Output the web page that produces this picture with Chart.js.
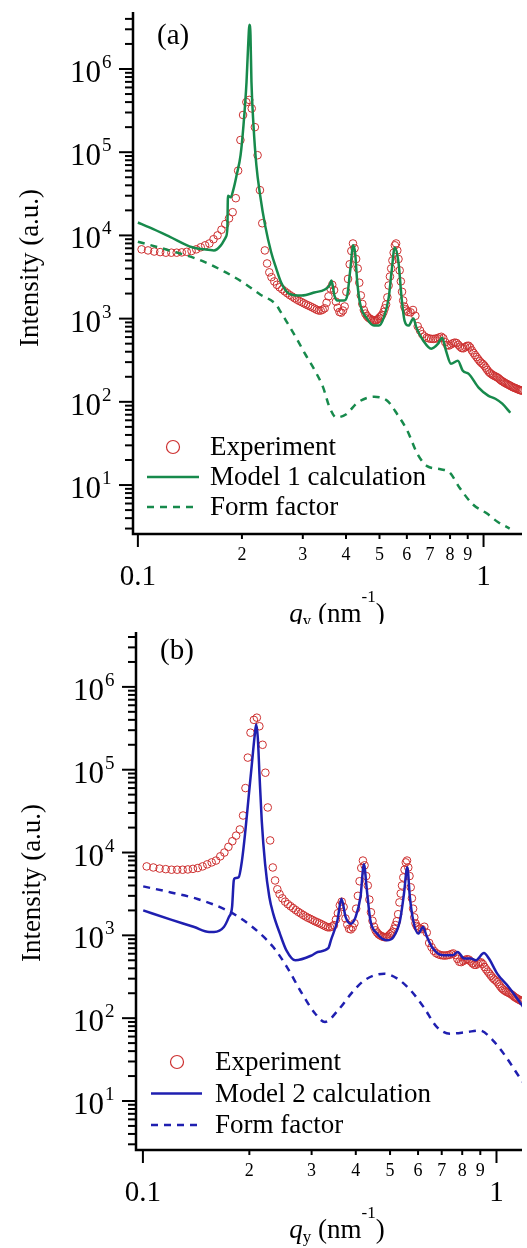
<!DOCTYPE html>
<html>
<head>
<meta charset="utf-8">
<script src="https://cdn.jsdelivr.net/npm/chart.js@4.4.0/dist/chart.umd.min.js"></script>
<style>
  body { margin: 0; background: #fff; }
  .panel { position: absolute; left: 0; width: 527px; height: 624px; }
  #wrapA { top: 0; }
  #wrapB { top: 624px; }
</style>
</head>
<body>
<div class="panel" id="wrapA"><canvas id="chartA"></canvas></div>
<div class="panel" id="wrapB"><canvas id="chartB"></canvas></div>
<script>
// Experiment (same data in both panels)
const expQ = [
  0.1025, 0.1070, 0.1115, 0.1160, 0.1205, 0.1250, 0.1295, 0.1340, 0.1385, 0.1430,
  0.1475, 0.1520, 0.1565, 0.1610, 0.1655, 0.1700, 0.1745, 0.1790, 0.1835, 0.1880,
  0.1920, 0.1950, 0.1980, 0.2015, 0.2060, 0.2100, 0.2135, 0.2180, 0.2220, 0.2255,
  0.2290, 0.2330, 0.2365, 0.2400, 0.2435, 0.2480, 0.2525, 0.2570, 0.2615, 0.2660,
  0.2705, 0.2750, 0.2795, 0.2840, 0.2885, 0.2930, 0.2975, 0.3020, 0.3065, 0.3110,
  0.3155, 0.3200, 0.3245, 0.3290, 0.3335, 0.3380, 0.3425, 0.3470, 0.3515, 0.3560,
  0.3605, 0.3650, 0.3695, 0.3740, 0.3785, 0.3830, 0.3875, 0.3920, 0.3965, 0.4010,
  0.4055, 0.4100, 0.4145, 0.4190, 0.4235, 0.4280, 0.4325, 0.4370, 0.4415, 0.4460,
  0.4505, 0.4550, 0.4595, 0.4640, 0.4685, 0.4730, 0.4775, 0.4820, 0.4865, 0.4910,
  0.4955, 0.5000, 0.5045, 0.5090, 0.5135, 0.5180, 0.5225, 0.5270, 0.5315, 0.5360,
  0.5405, 0.5450, 0.5495, 0.5540, 0.5585, 0.5630, 0.5675, 0.5720, 0.5765, 0.5810,
  0.5855, 0.5900, 0.5945, 0.5990,
  0.605, 0.615, 0.625, 0.635, 0.645, 0.655, 0.665, 0.675, 0.685, 0.695,
  0.705, 0.715, 0.725, 0.735, 0.745, 0.755, 0.765, 0.775, 0.785, 0.795,
  0.805, 0.815, 0.825, 0.835, 0.845, 0.855, 0.865, 0.875, 0.885, 0.895,
  0.905, 0.915, 0.925, 0.935, 0.945, 0.955, 0.965, 0.975, 0.985, 0.995,
  1.005, 1.015, 1.025, 1.035, 1.045, 1.055, 1.065, 1.075, 1.085, 1.095,
  1.105, 1.115, 1.125, 1.135, 1.145, 1.155, 1.165, 1.175, 1.185, 1.195,
  1.205, 1.215, 1.225, 1.235, 1.245, 1.255, 1.265, 1.275, 1.285, 1.295
];
const expI = [
  6800, 6600, 6400, 6300, 6200, 6200, 6200, 6250, 6350, 6500,
  6800, 7200, 7600, 8000, 9000, 10000, 11700, 13700, 16000, 19000,
  28000, 60000, 140000, 280000, 400000, 425000, 335000, 200000, 92000, 35000,
  14000, 6600, 4600, 3600, 3150, 2800, 2550, 2380, 2250, 2130,
  2020, 1920, 1840, 1760, 1690, 1630, 1580, 1530, 1480, 1440,
  1400, 1360, 1320, 1280, 1250, 1250, 1280, 1330, 1550, 1850,
  2300, 2550, 2200, 1600, 1350, 1200, 1180, 1250, 1400, 2100,
  3000, 4500, 6500, 8000, 7000, 5200, 4000, 2700, 1900, 1500,
  1270, 1150, 1080, 1030, 1000, 980, 960, 950, 950, 960,
  990, 1030, 1070, 1110, 1200, 1330, 1480, 1800, 2500, 3200,
  4000, 5000, 6200, 7600, 8000, 6600, 5200, 3800, 2800, 2100,
  1650, 1400, 1300, 1250,
  1200, 1190, 1270, 1080, 810, 720, 650, 610, 590, 578,
  572, 570, 574, 580, 595, 605, 580, 520, 480, 475,
  490, 505, 515, 510, 485, 460, 442, 440, 455, 470,
  472, 450, 415, 388, 365, 345, 325, 308, 294, 285,
  272, 257, 242, 230, 221, 215, 209, 205, 201, 197,
  192, 186, 180, 176, 172, 168, 165, 162, 159, 156,
  153, 150, 148, 146, 144, 142, 140, 138, 137, 136
];

// Panel (a): Model 1 calculation
const model1Q = [
  0.100, 0.108, 0.1234, 0.1436, 0.1553, 0.166, 0.1738, 0.1795, 0.1815, 0.1822,
  0.1855, 0.1893, 0.1930, 0.1982, 0.2021, 0.2062, 0.2083, 0.2103, 0.2117, 0.2131,
  0.2160, 0.2202, 0.2258, 0.2334, 0.2431, 0.2514, 0.2597, 0.2736, 0.2978, 0.3238,
  0.3583, 0.3631, 0.3704, 0.3777, 0.3955, 0.4034, 0.4114, 0.4196, 0.4252, 0.4308,
  0.4394, 0.4601, 0.4819, 0.4980, 0.5145, 0.5317, 0.5424, 0.5533, 0.5679, 0.5792,
  0.5908, 0.6066, 0.6268, 0.6393, 0.6694, 0.7058, 0.7389, 0.7586, 0.7788, 0.8049,
  0.8428, 0.8710, 0.9061, 0.9676, 1.0335, 1.082, 1.133, 1.195
];
const model1I = [
  14300, 12500, 9700, 7200, 6800, 6600, 7600, 9500, 12100, 30000,
  28700, 36800, 52800, 92000, 211000, 697000, 1790000, 3390000, 2570000, 697000,
  211000, 69700, 30300, 13200, 6240, 4000, 2720, 2000, 1890, 2060,
  2500, 2870, 1890, 1650, 1650, 1890, 3790, 7590, 6070, 2870,
  1520, 1000, 824, 824, 1030, 1790, 3790, 7170, 4600, 1790,
  946, 824, 1000, 780, 543, 435, 500, 590, 411, 287,
  312, 236, 217, 148, 118, 109, 95, 74
];
const form1Q = [
  0.100, 0.1234, 0.1503, 0.1773, 0.2021, 0.2258, 0.250, 0.2597, 0.2701, 0.2884,
  0.3046, 0.3254, 0.3435, 0.3589, 0.3751, 0.4006, 0.4321, 0.4829, 0.5265, 0.5627,
  0.6019, 0.6446, 0.6866, 0.7509, 0.7985, 0.8523, 0.9313, 1.0186, 1.10, 1.19
];
const form1I = [
  8400, 6600, 5100, 3700, 2700, 1950, 1500, 1180, 902, 569,
  376, 236, 149, 85, 65, 71, 98, 115, 103, 71,
  45, 23.4, 16.9, 15.5, 14.1, 9.3, 5.85, 4.6, 3.6, 3.0
];

// Panel (b): Model 2 calculation
const model2Q = [
  0.1002, 0.1200, 0.1397, 0.1539, 0.1589, 0.1694, 0.1750, 0.1787, 0.1807, 0.1819,
  0.1866, 0.1906, 0.1949, 0.1990, 0.2033, 0.2068, 0.2091, 0.2113, 0.2136, 0.2168,
  0.2216, 0.2278, 0.2337, 0.2440, 0.2546, 0.2698, 0.3005, 0.3122, 0.3345, 0.3401,
  0.3549, 0.3643, 0.3745, 0.3868, 0.3994, 0.4124, 0.4217, 0.4300, 0.4399, 0.4592,
  0.4898, 0.5112, 0.5334, 0.5474, 0.5595, 0.5689, 0.5815, 0.6004, 0.6201, 0.6334,
  0.6612, 0.7053, 0.7520, 0.7767, 0.8104, 0.8461, 0.8738, 0.9216, 0.9517, 1.0046,
  1.0825, 1.1797, 1.2000
];
const model2I = [
  2000, 1550, 1260, 1100, 1100, 1260, 1660, 2190, 4600, 4900,
  5040, 8000, 18400, 46000, 117000, 245000, 355000, 245000, 89000, 24300,
  7300, 2900, 1820, 1050, 659, 500, 574, 630, 700, 871,
  1510, 2770, 1660, 1380, 1660, 2900, 7200, 3500, 1520, 1050,
  871, 953, 1510, 3180, 6650, 2900, 1510, 1050, 1260, 1000,
  692, 574, 574, 630, 525, 525, 500, 611, 525, 345,
  238, 144, 130
];
const form2Q = [
  0.1002, 0.1200, 0.1427, 0.1731, 0.1927, 0.2146, 0.2337, 0.2550, 0.2817, 0.3068,
  0.3271, 0.3566, 0.3886, 0.4233, 0.4813, 0.5245, 0.5715, 0.6224, 0.6786, 0.7392,
  0.8232, 0.8965, 0.9766, 1.0644, 1.1594, 1.2000
];
const form2I = [
  3900, 3300, 2750, 2000, 1520, 1050, 722, 420, 199, 114,
  90, 125, 199, 287, 345, 300, 217, 136, 78, 65,
  68, 71, 54, 34, 19.6, 16
];

// Axis ticks
const xTickValues = [0.1, 0.2, 0.3, 0.4, 0.5, 0.6, 0.7, 0.8, 0.9, 1];
const xTickLabels = ['0.1', '2', '3', '4', '5', '6', '7', '8', '9', '1'];
const yTickExponents = [1, 2, 3, 4, 5, 6];

const SERIF = '"Liberation Serif", "Times New Roman", serif';
const EXP_COLOR = 'rgb(205,48,48)';

function toPoints(qs, vals) {
  return qs.map((q, i) => ({ x: q, y: vals[i] }));
}

function line(ctx, x0, y0, x1, y1) {
  ctx.beginPath();
  ctx.moveTo(x0, y0);
  ctx.lineTo(x1, y1);
  ctx.stroke();
}

function drawXTitle(ctx, cx, base) {
  const parts = [
    ['italic 27px ' + SERIF, 'q', 0],
    ['17px ' + SERIF, 'y', 4],
    ['27px ' + SERIF, ' (nm', 0],
    ['17px ' + SERIF, '-1', -20],
    ['27px ' + SERIF, ')', 0]
  ];
  let total = 0;
  parts.forEach(p => { ctx.font = p[0]; total += ctx.measureText(p[1]).width; });
  let x = cx - total / 2;
  ctx.textAlign = 'left';
  ctx.textBaseline = 'alphabetic';
  parts.forEach(p => {
    ctx.font = p[0];
    ctx.fillText(p[1], x, base + p[2]);
    x += ctx.measureText(p[1]).width;
  });
}

function makeDecor(cfg) {
  return {
    id: 'decor' + cfg.tag,
    afterDraw(chart) {
      const ctx = chart.ctx;
      const xs = chart.scales.x, ys = chart.scales.y;
      const a = chart.chartArea;
      ctx.save();
      ctx.strokeStyle = '#000';
      ctx.fillStyle = '#000';

      // axis lines
      ctx.lineWidth = 2.5;
      ctx.beginPath();
      ctx.moveTo(a.left, a.top);
      ctx.lineTo(a.left, a.bottom);
      ctx.lineTo(a.right, a.bottom);
      ctx.stroke();

      // y ticks
      ctx.lineWidth = 2;
      for (let e = 0; e <= 7; e++) {
        for (let m = 1; m <= 9; m++) {
          const v = m * Math.pow(10, e);
          if (v < ys.min || v > ys.max) continue;
          const py = ys.getPixelForValue(v);
          line(ctx, a.left - (m === 1 ? 14 : 8), py, a.left, py);
        }
      }
      // y tick labels 10^n
      yTickExponents.forEach(n => {
        const py = ys.getPixelForValue(Math.pow(10, n));
        ctx.font = '31px ' + SERIF;
        ctx.textAlign = 'right';
        ctx.textBaseline = 'alphabetic';
        ctx.fillText('10', a.left - 32, py + 13);
        ctx.font = '19px ' + SERIF;
        ctx.textAlign = 'left';
        ctx.fillText(String(n), a.left - 31, py - 1);
      });

      // x ticks and labels
      xTickValues.forEach((v, i) => {
        const px = xs.getPixelForValue(v);
        const major = (i === 0 || i === xTickValues.length - 1);
        line(ctx, px, a.bottom, px, a.bottom + (major ? 13 : 5));
        ctx.textAlign = 'center';
        ctx.textBaseline = 'middle';
        if (major) {
          ctx.font = '29px ' + SERIF;
          ctx.fillText(xTickLabels[i], px, a.bottom + 43);
        } else {
          ctx.font = '18px ' + SERIF;
          ctx.fillText(xTickLabels[i], px, a.bottom + 21);
        }
      });

      // axis titles
      drawXTitle(ctx, 337, a.bottom + 88);
      ctx.save();
      ctx.translate(cfg.yTitleX, cfg.yTitleY);
      ctx.rotate(-Math.PI / 2);
      ctx.font = '27px ' + SERIF;
      ctx.textAlign = 'center';
      ctx.textBaseline = 'middle';
      ctx.fillText('Intensity (a.u.)', 0, 0);
      ctx.restore();

      // panel label
      ctx.font = '29px ' + SERIF;
      ctx.textAlign = 'left';
      ctx.textBaseline = 'alphabetic';
      ctx.fillText(cfg.panelLabel, cfg.labelX, cfg.labelY);

      // legend
      const lg = cfg.legend;
      const rows = ['Experiment', cfg.modelLabel, 'Form factor'];
      rows.forEach((txt, r) => {
        const base = lg.base + r * lg.gap;
        const cy = base - 8;
        if (r === 0) {
          ctx.strokeStyle = EXP_COLOR;
          ctx.lineWidth = 1.2;
          ctx.beginPath();
          ctx.arc(lg.markerX, cy, 6.5, 0, Math.PI * 2);
          ctx.stroke();
        } else {
          ctx.strokeStyle = cfg.color;
          ctx.lineWidth = 2.5;
          ctx.setLineDash(r === 2 ? [7, 6] : []);
          line(ctx, lg.lineX0, cy, lg.lineX1, cy);
          ctx.setLineDash([]);
        }
        ctx.fillStyle = '#000';
        ctx.font = '27px ' + SERIF;
        ctx.textAlign = 'left';
        ctx.textBaseline = 'alphabetic';
        ctx.fillText(txt, lg.textX, base);
      });
      ctx.restore();
    }
  };
}

function makePanel(cfg) {
  const datasets = [
    {
      label: 'Experiment',
      data: toPoints(expQ, expI),
      showLine: false,
      pointStyle: 'circle',
      pointRadius: 3.8,
      pointBorderWidth: 1,
      pointBorderColor: EXP_COLOR,
      pointBackgroundColor: 'rgba(0,0,0,0)',
      order: 2
    },
    {
      label: cfg.modelLabel,
      data: toPoints(cfg.modelQ, cfg.modelI),
      showLine: true,
      borderColor: cfg.color,
      borderWidth: 2.5,
      pointRadius: 0,
      cubicInterpolationMode: 'monotone',
      order: 0
    },
    {
      label: 'Form factor',
      data: toPoints(cfg.formQ, cfg.formI),
      showLine: true,
      borderColor: cfg.color,
      borderWidth: 2.5,
      borderDash: [7, 6],
      pointRadius: 0,
      cubicInterpolationMode: 'monotone',
      order: 1
    }
  ];
  return new Chart(document.getElementById(cfg.canvas), {
    type: 'scatter',
    data: { datasets },
    options: {
      responsive: true,
      maintainAspectRatio: false,
      animation: false,
      layout: { padding: { left: cfg.left, top: cfg.top, right: 0, bottom: 624 - cfg.bottom } },
      plugins: { legend: { display: false }, tooltip: { enabled: false } },
      scales: {
        x: { type: 'logarithmic', display: false, min: cfg.xMin, max: cfg.xMax },
        y: { type: 'logarithmic', display: false, min: cfg.yMin, max: cfg.yMax }
      }
    },
    plugins: [makeDecor(cfg)]
  });
}

makePanel({
  tag: 'A', canvas: 'chartA',
  left: 133, top: 12, bottom: 534,
  xMin: 0.0968, xMax: 1.292, yMin: 2.58, yMax: 4.84e6,
  color: '#178a4c', modelLabel: 'Model 1 calculation',
  modelQ: model1Q, modelI: model1I, formQ: form1Q, formI: form1I,
  panelLabel: '(a)', labelX: 157, labelY: 44,
  yTitleX: 31, yTitleY: 268,
  legend: { markerX: 173, lineX0: 147, lineX1: 199, textX: 210, base: 455, gap: 30 }
});

makePanel({
  tag: 'B', canvas: 'chartB',
  left: 136, top: 8, bottom: 526,
  xMin: 0.0956, xMax: 1.1807, yMin: 2.56, yMax: 4.6e6,
  color: '#1f1fb0', modelLabel: 'Model 2 calculation',
  modelQ: model2Q, modelI: model2I, formQ: form2Q, formI: form2I,
  panelLabel: '(b)', labelX: 160, labelY: 35,
  yTitleX: 33, yTitleY: 259,
  legend: { markerX: 177, lineX0: 151, lineX1: 202, textX: 215, base: 446, gap: 31.5 }
});
</script>
</body>
</html>
